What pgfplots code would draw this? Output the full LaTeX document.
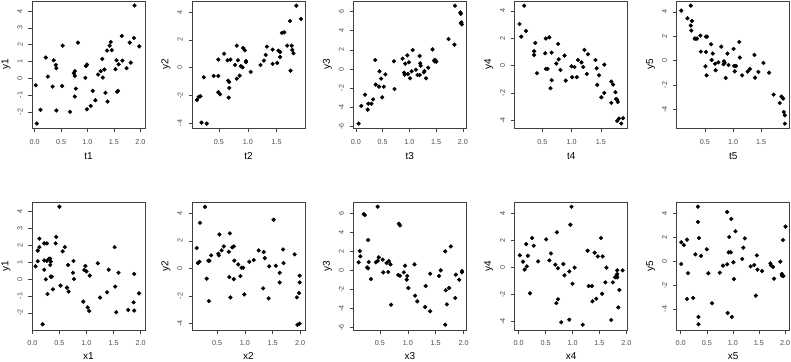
\documentclass[border=0pt]{standalone}
\usepackage{pgfplots}
\pgfplotsset{compat=1.18}
\usepackage{fontspec}
\setmainfont{Liberation Sans}
\definecolor{txt}{gray}{0.3}
\definecolor{lin}{gray}{0.25}
\pgfplotsset{
 rp/.style={
  scale only axis, width=113pt, height=127.3pt, anchor=south west,
  axis line style={lin, line width=0.5pt},
  tick style={lin, line width=0.5pt},
  tick align=outside, major tick length=3.5pt,
  xtick pos=bottom, ytick pos=left,
  ticklabel style={font=\fontsize{7.2}{8}\selectfont, text=txt},
  xticklabel style={anchor=center, yshift=-10pt},
  yticklabel style={xshift=-8.5pt, rotate=90, anchor=center},
  label style={font=\fontsize{7.4}{8}\selectfont, text=txt},
  every axis x label/.style={at={(axis description cs:0.5,0)}, anchor=center, yshift=-28pt},
  every axis y label/.style={at={(axis description cs:0,0.5)}, anchor=center, xshift=-26pt, rotate=90},
 },
 pts/.style={only marks, mark=*, draw=black, fill=black, mark options={draw=black, fill=black}, mark size=1.9pt},
 bot/.style={every axis x label/.append style={yshift=1.5pt}},
 x02/.style={xtick={0,0.5,1,1.5,2}, xticklabels={0.0,0.5,1.0,1.5,2.0}},
 x0515/.style={xtick={0.5,1,1.5}, xticklabels={0.5,1.0,1.5}},
 x052/.style={xtick={0.5,1,1.5,2}, xticklabels={0.5,1.0,1.5,2.0}},
 y24/.style={ytick={-2,-1,0,1,2,3,4}, yticklabels={-2,-1,0,1,2,3,4}},
 y44/.style={ytick={-4,-2,0,2,4}, yticklabels={-4,-2,0,2,4}},
 y66/.style={ytick={-6,-4,-2,0,2,4,6}, yticklabels={-6,-4,-2,0,2,4,6}},
}
\begin{document}
\begin{tikzpicture}
\path[use as bounding box] (0,0) rectangle (791pt,361pt);
% ---------- top row ----------
\begin{axis}[rp, at={(32pt,232.7pt)}, xmin=-0.051, xmax=2.089, ymin=-2.98, ymax=4.60, x02, y24, xlabel={t1}, ylabel={y1}]
\addplot[pts] coordinates {(0.02,-0.42)(0.04,-2.7)(0.11,-1.88)(0.21,1.23)(0.25,0.10)(0.34,-0.50)(0.36,1.07)(0.40,0.79)(0.41,0.60)(0.41,-1.92)(0.52,-0.46)(0.53,1.94)(0.67,-2.0)(0.74,0.30)(0.76,0.42)(0.76,0.14)(0.78,-0.62)(0.76,-1.09)(0.82,2.12)(0.96,0.02)(0.97,0.73)(0.99,0.81)(0.99,-1.85)(1.06,-1.65)(1.10,-0.75)(1.15,-1.31)(1.20,0.22)(1.25,0.42)(1.28,1.15)(1.29,0.04)(1.32,0.52)(1.34,-0.87)(1.37,1.65)(1.38,-1.39)(1.42,1.94)(1.44,2.16)(1.46,1.67)(1.53,0.54)(1.55,1.07)(1.56,-0.81)(1.58,-0.75)(1.59,0.83)(1.66,1.05)(1.65,2.52)(1.74,0.60)(1.80,2.12)(1.82,0.93)(1.88,2.40)(1.89,4.33)(1.98,1.90)};
\end{axis}
\begin{axis}[rp, at={(192pt,232.7pt)}, xmin=0.035, xmax=1.99, ymin=-4.39, ymax=4.82, x0515, y44, xlabel={t2}, ylabel={y2}]
\addplot[pts] coordinates {(0.12,-2.34)(0.15,-2.12)(0.18,-2.07)(0.20,-3.98)(0.24,-0.70)(0.29,-4.05)(0.41,-0.60)(0.49,0.58)(0.49,-0.60)(0.49,-1.78)(0.52,-1.93)(0.59,1.01)(0.65,0.53)(0.66,-0.94)(0.68,-1.04)(0.68,-1.47)(0.67,-2.17)(0.70,0.58)(0.78,0.19)(0.81,1.59)(0.81,-0.80)(0.83,0.53)(0.86,-0.58)(0.88,0.10)(0.91,0.02)(0.92,1.42)(0.95,1.25)(0.97,0.48)(0.97,0.39)(1.05,-0.31)(1.22,0.19)(1.28,0.51)(1.31,0.92)(1.33,1.52)(1.43,1.30)(1.43,0.27)(1.51,0.34)(1.53,1.23)(1.56,1.13)(1.56,0.77)(1.59,2.51)(1.63,2.55)(1.68,1.59)(1.73,3.37)(1.74,-0.22)(1.76,1.59)(1.77,1.28)(1.79,1.04)(1.84,4.48)(1.92,3.52)};
\end{axis}
\begin{axis}[rp, at={(353.3pt,232.7pt)}, xmin=-0.05, xmax=2.062, ymin=-6.19, ymax=7.10, x02, y66, xlabel={t3}, ylabel={y3}]
\addplot[pts] coordinates {(0.05,-5.70)(0.10,-3.86)(0.17,-2.68)(0.22,-4.24)(0.23,-3.62)(0.29,-3.62)(0.32,-3.17)(0.36,0.94)(0.37,-1.63)(0.43,-1.84)(0.44,-0.24)(0.47,-1.01)(0.49,-2.96)(0.52,-1.84)(0.55,-0.56)(0.72,-2.09)(0.71,0.80)(0.87,1.08)(0.90,-0.38)(0.91,-0.59)(0.92,0.56)(0.96,1.43)(0.97,-0.52)(0.99,0.70)(1.01,-0.97)(1.04,-0.24)(1.06,1.98)(1.12,-0.07)(1.15,-0.63)(1.19,-0.63)(1.19,1.36)(1.20,0.59)(1.21,0.35)(1.27,-0.35)(1.28,-0.21)(1.31,-0.97)(1.35,0.14)(1.43,2.05)(1.46,0.90)(1.47,0.80)(1.50,0.77)(1.48,0.94)(1.73,3.13)(1.84,2.54)(1.85,6.61)(1.95,5.91)(1.96,5.77)(1.97,4.87)(1.96,4.77)(1.98,4.66)};
\end{axis}
\begin{axis}[rp, at={(514.7pt,232.7pt)}, xmin=0.028, xmax=1.96, ymin=-4.59, ymax=4.73, x0515, y44, xlabel={t4}, ylabel={y4}]
\addplot[pts] coordinates {(0.11,3.05)(0.14,2.12)(0.19,4.39)(0.22,2.54)(0.36,1.05)(0.36,0.78)(0.38,1.66)(0.41,-0.56)(0.55,0.90)(0.56,1.98)(0.56,-0.24)(0.59,-0.24)(0.62,2.07)(0.64,-1.66)(0.66,0.95)(0.66,-1.07)(0.74,0.15)(0.77,1.59)(0.78,0.46)(0.81,-0.32)(0.88,0.73)(0.90,-1.10)(1.00,-0.05)(1.01,-0.85)(1.05,-0.10)(1.09,-0.85)(1.11,0.41)(1.17,0.24)(1.20,-0.10)(1.22,1.15)(1.26,-0.61)(1.28,0.83)(1.41,0.41)(1.43,-0.20)(1.44,-1.41)(1.47,-0.71)(1.51,-2.32)(1.56,0.07)(1.56,-2.0)(1.68,-2.73)(1.68,-1.17)(1.71,-1.39)(1.75,-1.95)(1.76,-2.44)(1.78,-2.49)(1.79,-2.66)(1.78,-4.05)(1.81,-3.88)(1.85,-4.24)(1.88,-3.85)};
\end{axis}
\begin{axis}[rp, at={(676.7pt,232.7pt)}, xmin=0.0, xmax=2.006, ymin=-5.56, ymax=4.90, x0515, y44, xlabel={t5}, ylabel={y5}]
\addplot[pts] coordinates {(0.08,4.11)(0.19,3.48)(0.25,4.52)(0.25,2.88)(0.26,2.47)(0.27,3.26)(0.32,1.81)(0.34,1.81)(0.36,1.81)(0.42,2.05)(0.43,0.74)(0.51,-0.47)(0.52,1.97)(0.54,1.97)(0.52,0.71)(0.53,-1.21)(0.61,1.34)(0.62,0.05)(0.64,0.58)(0.68,-0.25)(0.69,-0.79)(0.74,-0.14)(0.79,1.15)(0.83,-0.30)(0.84,-0.05)(0.85,-0.19)(0.87,-1.42)(0.90,0.58)(0.92,-0.36)(1.01,0.96)(1.02,-0.44)(1.03,-0.88)(1.05,-0.44)(1.11,1.53)(1.12,0.25)(1.16,-1.21)(1.26,-0.90)(1.30,-0.68)(1.39,-1.40)(1.38,0.47)(1.45,-0.93)(1.54,-0.19)(1.64,-0.99)(1.72,-2.79)(1.83,-3.48)(1.86,-2.96)(1.89,-3.12)(1.90,-4.22)(1.92,-4.49)(1.92,-5.18)};
\end{axis}
% ---------- bottom row ----------
\begin{axis}[rp, bot, at={(32pt,31pt)}, xmin=-0.006, xmax=2.08, ymin=-3.02, ymax=4.52, x02, y24, xlabel={x1}, ylabel={y1}]
\addplot[pts] coordinates {(0.06,0.75)(0.10,1.05)(0.10,1.68)(0.13,1.89)(0.13,2.39)(0.19,-2.68)(0.22,1.10)(0.22,0.55)(0.22,2.11)(0.25,-0.02)(0.27,2.11)(0.27,1.08)(0.28,-0.89)(0.31,1.20)(0.33,1.20)(0.33,0.83)(0.34,1.03)(0.34,0.14)(0.36,0.14)(0.38,-0.61)(0.43,2.11)(0.44,2.49)(0.50,4.28)(0.52,-0.39)(0.56,1.64)(0.60,1.89)(0.64,-0.51)(0.66,0.83)(0.67,-0.75)(0.75,0.37)(0.76,1.07)(0.77,0.0)(0.94,-1.34)(0.96,0.53)(0.98,0.77)(1.00,0.45)(1.02,-1.68)(1.05,-1.89)(1.06,0.20)(1.21,0.93)(1.25,-1.10)(1.38,-0.79)(1.41,0.55)(1.52,1.89)(1.53,-0.45)(1.55,-1.97)(1.59,0.37)(1.77,-1.83)(1.87,-1.38)(1.88,0.30)(1.88,-1.87)(1.97,-0.85)};
\end{axis}
\begin{axis}[rp, bot, at={(192pt,31pt)}, xmin=0.045, xmax=2.087, ymin=-4.48, ymax=4.78, x052, y44, xlabel={x2}, ylabel={y2}]
\addplot[pts] coordinates {(0.13,1.48)(0.15,0.39)(0.18,0.48)(0.19,3.32)(0.28,4.48)(0.31,-0.75)(0.34,0.56)(0.36,0.56)(0.35,-2.38)(0.39,0.95)(0.52,1.07)(0.53,0.95)(0.54,2.47)(0.58,1.31)(0.62,1.60)(0.71,1.21)(0.72,-0.63)(0.73,2.55)(0.74,-2.11)(0.77,1.53)(0.80,1.60)(0.80,-0.78)(0.81,0.56)(0.88,0.29)(0.92,-0.56)(0.94,0.05)(0.97,0.05)(0.99,-1.89)(1.08,0.48)(1.16,0.61)(1.25,1.31)(1.33,-1.45)(1.34,1.19)(1.36,0.75)(1.44,0.15)(1.43,-2.18)(1.52,3.54)(1.56,0.19)(1.63,-0.32)(1.63,-1.02)(1.69,1.38)(1.70,0.39)(1.90,1.02)(1.94,-2.11)(1.98,-1.79)(1.99,-0.53)(1.99,-1.02)(1.95,-4.10)(1.99,-4.02)};
\end{axis}
\begin{axis}[rp, bot, at={(353.3pt,31pt)}, xmin=0.024, xmax=2.048, ymin=-6.25, ymax=7.09, x052, y66, xlabel={x3}, ylabel={y3}]
\addplot[pts] coordinates {(0.12,0.84)(0.14,2.02)(0.15,1.47)(0.21,5.90)(0.23,5.79)(0.27,0.31)(0.29,0.21)(0.29,3.18)(0.30,0.87)(0.34,-0.91)(0.43,0.84)(0.46,6.67)(0.46,0.98)(0.48,1.36)(0.55,1.12)(0.56,-0.21)(0.62,0.77)(0.65,-0.17)(0.66,0.98)(0.69,0.63)(0.70,-3.60)(0.83,-0.49)(0.84,4.89)(0.86,4.71)(0.86,-0.56)(0.93,-0.21)(0.95,0.49)(0.98,-0.98)(0.99,-0.59)(1.01,-1.85)(1.12,0.63)(1.13,-2.65)(1.17,-3.25)(1.31,-3.84)(1.32,-1.64)(1.40,-4.29)(1.40,-0.35)(1.56,-0.59)(1.59,0.0)(1.67,1.99)(1.67,-5.69)(1.68,-2.09)(1.70,-3.56)(1.74,-1.85)(1.77,2.51)(1.85,-2.90)(1.86,-0.45)(1.92,-0.98)(1.97,-0.07)(1.97,-0.21)};
\end{axis}
\begin{axis}[rp, bot, at={(514.7pt,31pt)}, xmin=-0.074, xmax=2.025, ymin=-4.63, ymax=4.78, x02, y44, xlabel={x4}, ylabel={y4}]
\addplot[pts] coordinates {(0.02,0.89)(0.08,0.42)(0.11,-0.17)(0.14,1.72)(0.15,0.07)(0.17,0.86)(0.21,-1.92)(0.25,2.17)(0.28,1.60)(0.36,0.44)(0.51,2.07)(0.57,0.52)(0.60,1.03)(0.68,0.20)(0.70,-2.64)(0.71,2.59)(0.73,-0.07)(0.73,-2.36)(0.79,-4.06)(0.83,0.25)(0.85,-0.59)(0.94,-0.30)(0.94,-3.87)(0.96,3.15)(0.98,4.48)(1.00,-1.21)(1.04,-0.02)(1.19,-4.24)(1.28,1.23)(1.30,-1.38)(1.36,-1.38)(1.37,-2.51)(1.41,1.08)(1.44,-2.32)(1.47,0.81)(1.53,2.17)(1.55,-1.95)(1.56,0.81)(1.61,-1.11)(1.63,-0.02)(1.72,-3.89)(1.75,-1.11)(1.79,-0.74)(1.82,-0.57)(1.83,-0.74)(1.83,-0.22)(1.83,-0.49)(1.85,-2.96)(1.87,-1.67)(1.93,-0.22)};
\end{axis}
\begin{axis}[rp, bot, at={(676.7pt,31pt)}, xmin=-0.077, xmax=2.09, ymin=-5.74, ymax=4.90, x02, y44, xlabel={x5}, ylabel={y5}]
\addplot[pts] coordinates {(0.01,-0.22)(0.01,1.59)(0.06,1.36)(0.12,1.81)(0.12,-3.15)(0.14,-1.00)(0.24,-3.06)(0.28,0.58)(0.33,4.57)(0.33,3.29)(0.34,-4.65)(0.34,-5.26)(0.35,1.95)(0.39,0.45)(0.50,1.00)(0.53,-1.00)(0.60,-3.51)(0.75,-0.95)(0.81,-0.36)(0.89,-0.25)(0.89,4.12)(0.90,-4.32)(0.92,0.75)(0.93,2.03)(0.96,0.75)(0.97,3.54)(0.98,-4.65)(1.01,-0.08)(1.02,-1.48)(1.05,2.51)(1.18,0.19)(1.20,1.14)(1.23,1.92)(1.34,-0.42)(1.41,-0.31)(1.44,-2.87)(1.46,0.50)(1.47,-0.70)(1.56,-0.81)(1.72,-0.17)(1.73,-0.33)(1.77,-0.47)(1.79,-1.45)(1.91,-0.03)(1.94,-1.06)(1.94,-1.20)(1.96,1.78)(1.97,-1.23)(2.01,2.90)};
\end{axis}
\end{tikzpicture}
\end{document}
